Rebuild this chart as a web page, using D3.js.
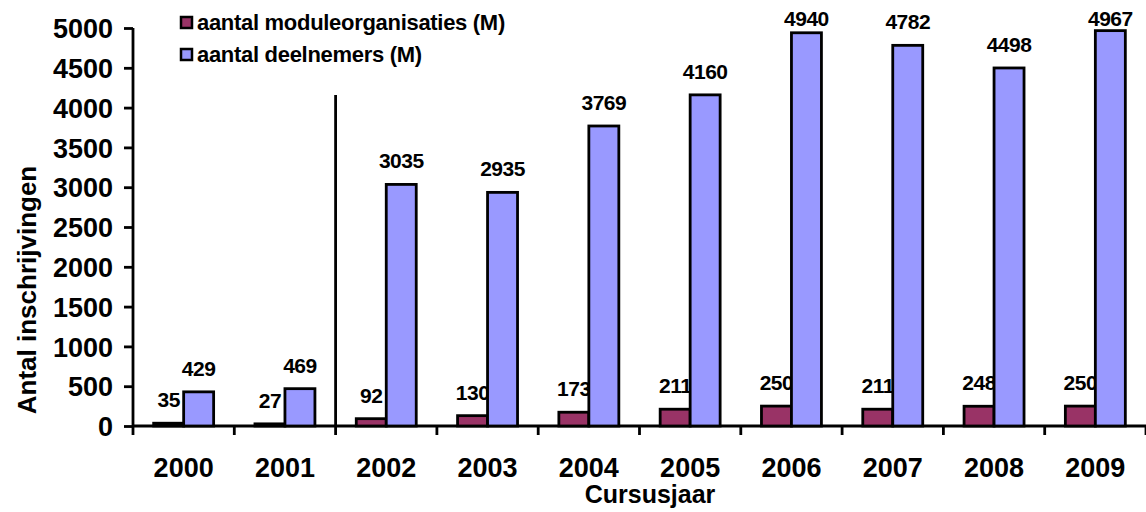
<!DOCTYPE html>
<html>
<head>
<meta charset="utf-8">
<script src="https://cdn.jsdelivr.net/npm/d3@7"></script>
<style>
  body { margin: 0; background: #fff; }
  text { font-family: Arial, "Liberation Sans", sans-serif; font-weight: bold; fill: #000; }
</style>
</head>
<body>
<div id="chart"></div>
<script>
// data
var years = ["2000", "2001", "2002", "2003", "2004", "2005", "2006", "2007", "2008", "2009"];
var organisaties = [35, 27, 92, 130, 173, 211, 250, 211, 248, 250];
var deelnemers = [429, 469, 3035, 2935, 3769, 4160, 4940, 4782, 4498, 4967];
var yTicks = [0, 500, 1000, 1500, 2000, 2500, 3000, 3500, 4000, 4500, 5000];
var seriesNames = ["aantal moduleorganisaties (M)", "aantal deelnemers (M)"];
var seriesColors = ["#993366", "#9999ff"];

var svgWidth = 1146;
var svgHeight = 512;

var margin = { top: 28, right: 0, bottom: 86, left: 133 };
var width = svgWidth - margin.left - margin.right;
var height = svgHeight - margin.top - margin.bottom;

var svg = d3.select("#chart").append("svg")
  .attr("width", svgWidth)
  .attr("height", svgHeight);

var chartGroup = svg.append("g")
  .attr("transform", `translate(${margin.left}, ${margin.top})`);

// scales
var xBand = d3.scaleBand()
  .domain(years)
  .range([0, width])
  .padding(0);

var barW = xBand.bandwidth() * 0.296;

var xInner = d3.scaleBand()
  .domain([0, 1])
  .range([xBand.bandwidth() / 2 - barW, xBand.bandwidth() / 2 + barW]);

var yScale = d3.scaleLinear()
  .domain([0, 5000])
  .range([height, 0]);

// y axis
var leftAxis = d3.axisLeft(yScale)
  .tickValues(yTicks)
  .tickSize(9)
  .tickPadding(11)
  .tickFormat(d3.format("d"));

var yAxisG = chartGroup.append("g").call(leftAxis);
yAxisG.select(".domain").attr("stroke-width", 2.8).attr("d", `M0,${height}V0`);
yAxisG.selectAll(".tick line").attr("stroke-width", 2.8);
yAxisG.selectAll(".tick text")
  .style("font-size", "27px")
  .attr("dy", "0.36em");

// x axis: ticks between the categories
var boundaries = d3.range(years.length + 1).map(i => i * xBand.step());
var xAxisG = chartGroup.append("g")
  .attr("transform", `translate(0, ${height})`);
xAxisG.append("line")
  .attr("x1", 0).attr("x2", width)
  .attr("stroke", "#000").attr("stroke-width", 2.8);
xAxisG.selectAll("line.tk")
  .data(boundaries)
  .enter()
  .append("line")
  .attr("class", "tk")
  .attr("x1", d => d).attr("x2", d => d)
  .attr("y1", 0).attr("y2", 9)
  .attr("stroke", "#000").attr("stroke-width", 2.8);
xAxisG.selectAll("text.yr")
  .data(years)
  .enter()
  .append("text")
  .attr("class", "yr")
  .attr("x", d => xBand(d) + xBand.bandwidth() / 2)
  .attr("y", 51)
  .attr("text-anchor", "middle")
  .style("font-size", "27px")
  .text(d => d);

// separator line between 2001 and 2002
chartGroup.append("line")
  .attr("x1", xBand("2002")).attr("x2", xBand("2002"))
  .attr("y1", 67).attr("y2", height)
  .attr("stroke", "#000").attr("stroke-width", 2.8);

// bars and labels, one series at a time
[organisaties, deelnemers].forEach(function(values, s) {
  var g = chartGroup.append("g");
  g.selectAll("rect")
    .data(values)
    .enter()
    .append("rect")
    .attr("x", (d, i) => xBand(years[i]) + xInner(s))
    .attr("y", d => yScale(d))
    .attr("width", xInner.bandwidth())
    .attr("height", d => height - yScale(d))
    .attr("fill", seriesColors[s])
    .attr("stroke", "#000")
    .attr("stroke-width", 2.8);
  g.selectAll("text")
    .data(values)
    .enter()
    .append("text")
    .attr("x", (d, i) => xBand(years[i]) + xInner(s) + xInner.bandwidth() / 2)
    .attr("y", d => Math.max(yScale(d) - 16, -2))
    .attr("text-anchor", "middle")
    .style("font-size", "21px")
    .style("letter-spacing", "-0.5px")
    .text(d => d);
});

// legend
var legend = svg.append("g").attr("transform", "translate(180, 0)");
seriesNames.forEach(function(name, i) {
  legend.append("rect")
    .attr("x", 1).attr("y", 17 + i * 32)
    .attr("width", 11).attr("height", 11)
    .attr("fill", seriesColors[i])
    .attr("stroke", "#000")
    .attr("stroke-width", 2.5);
  legend.append("text")
    .attr("x", 17).attr("y", 30 + i * 32)
    .style("font-size", "22px")
    .style("letter-spacing", "-0.3px")
    .text(name);
});

// axis titles
svg.append("text")
  .attr("x", 650).attr("y", 503)
  .attr("text-anchor", "middle")
  .style("font-size", "25px")
  .text("Cursusjaar");

svg.append("text")
  .attr("transform", "translate(36, 290) rotate(-90)")
  .attr("text-anchor", "middle")
  .style("font-size", "26px")
  .text("Antal inschrijvingen");
</script>
</body>
</html>
